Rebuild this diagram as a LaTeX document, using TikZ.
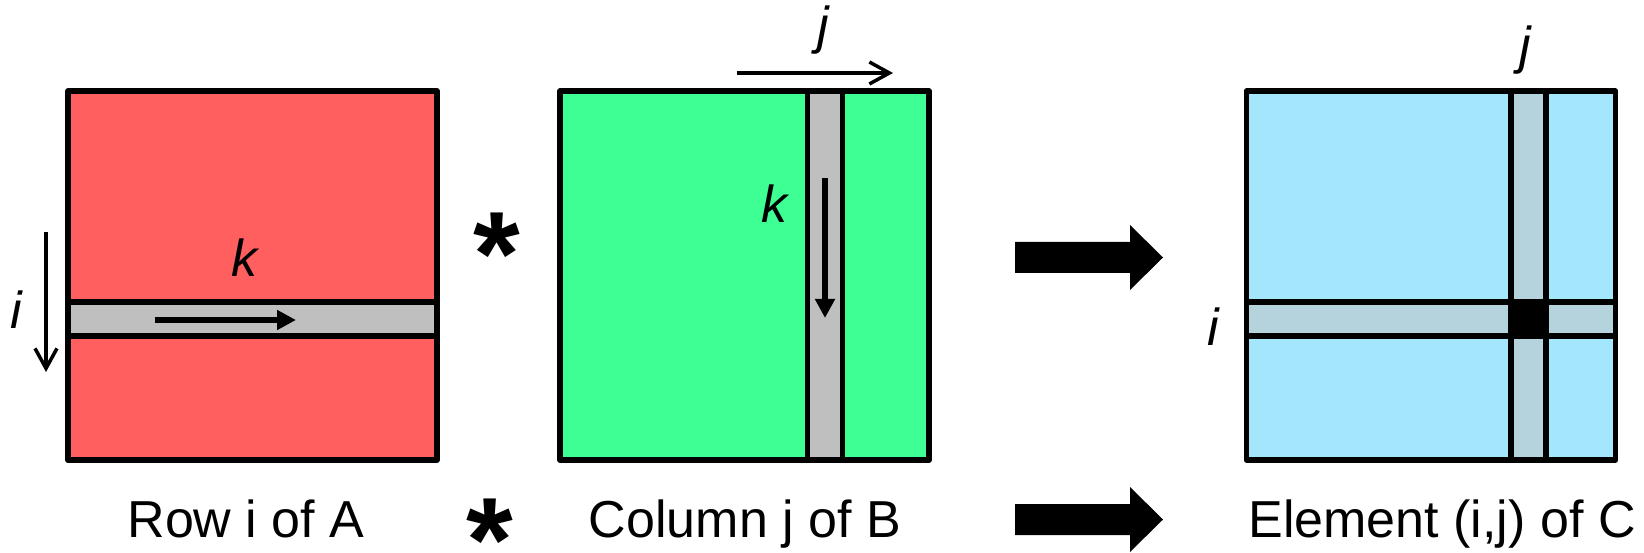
\documentclass[tikz,border=0pt]{standalone}
\usepackage{fontspec}
\setmainfont{Liberation Sans}
\usetikzlibrary{arrows.meta}
\definecolor{redA}{HTML}{FF5F5F}
\definecolor{greenB}{HTML}{3DFF93}
\definecolor{blueC}{HTML}{A4E7FD}
\definecolor{bandgray}{HTML}{BFBFBF}
\definecolor{bandblue}{HTML}{B4D3DD}
\newcommand{\tightstar}{\raisebox{0pt}[0.72em][-0.36em]{*}}
\begin{document}
\begin{tikzpicture}[x=1pt,y=-1pt,
  mat/.style={draw=black, line width=5.5pt, line join=round, minimum width=369pt, minimum height=369pt, inner sep=0pt, outer sep=0pt},
  hband/.style={draw=black, line width=5.5pt, minimum width=369pt, minimum height=34pt, inner sep=0pt, outer sep=0pt},
  vband/.style={draw=black, line width=5.5pt, minimum width=35pt, minimum height=369pt, inner sep=0pt, outer sep=0pt},
  cell/.style={draw=black, fill=black, line width=5.5pt, minimum width=35pt, minimum height=34pt, inner sep=0pt, outer sep=0pt},
  lbl/.style={font=\fontsize{52}{60}\selectfont\itshape, inner sep=0pt, anchor=base},
  capt/.style={font=\fontsize{52}{60}\selectfont, inner sep=0pt, anchor=base},
  starsym/.style={font=\fontsize{120}{120}\selectfont\bfseries, inner sep=0pt, anchor=base},
  thinarrow/.style={line width=3.5pt, -{Straight Barb[length=20pt,width=22pt]}},
  thickarrow/.style={line width=6pt, -{Triangle[length=19pt,width=19pt]}},
  bigarrow/.style={fill=black},
]
\useasboundingbox (0,0) rectangle (1644,553);

% Matrix A
\node[mat, fill=redA] (A) at (252.5,275.5) {};
\node[hband, fill=bandgray] (Arow) at (252.5,319) {};
% Matrix B
\node[mat, fill=greenB] (B) at (744.5,275.5) {};
\node[vband, fill=bandgray] (Bcol) at (825,275.5) {};
% Matrix C
\node[mat, fill=blueC] (C) at (1431,275.5) {};
\node[hband, fill=bandblue] (Crow) at (1431,319) {};
\node[vband, fill=bandblue] (Ccol) at (1528.5,275.5) {};
\node[cell] (Cij) at (1528.5,319) {};

% arrows
\coordinate (kAs) at (155,320);
\coordinate (kAe) at (296,320);
\draw[thickarrow] (kAs) -- (kAe);
\coordinate (iAs) at (46,232);
\coordinate (iAe) at (46,372);
\draw[thinarrow] (iAs) -- (iAe);
\coordinate (jBs) at (737,73);
\coordinate (jBe) at (893,73);
\draw[thinarrow] (jBs) -- (jBe);
\coordinate (kBs) at (825,178);
\coordinate (kBe) at (825,318);
\draw[thickarrow] (kBs) -- (kBe);

% big arrows
\fill[bigarrow] (1015,242) -- (1130,242) -- (1130,225) -- (1163,257.5) -- (1130,290) -- (1130,273) -- (1015,273) -- cycle;
\fill[bigarrow, yshift=-262pt] (1015,242) -- (1130,242) -- (1130,225) -- (1163,257.5) -- (1130,290) -- (1130,273) -- (1015,273) -- cycle;

% labels
\node[lbl] (iA) at (16,329) {i};
\node[lbl] (kA) at (244,276.5) {k};
\node[lbl] (kB) at (774,223) {k};
\node[lbl] (jB) at (823,44) {j};
\node[lbl] (jC) at (1525,64) {j};
\node[lbl] (iC) at (1213,345) {i};

\node[starsym] (s1) at (497,296) {\tightstar};
\node[starsym] (s2) at (490,581) {\tightstar};

\node[capt] (tA) at (246,537) {Row i of A};
\node[capt] (tB) at (745,537) {Column j of B};
\node[capt] (tC) at (1442,537) {Element (i,j) of C};
\end{tikzpicture}
\end{document}
